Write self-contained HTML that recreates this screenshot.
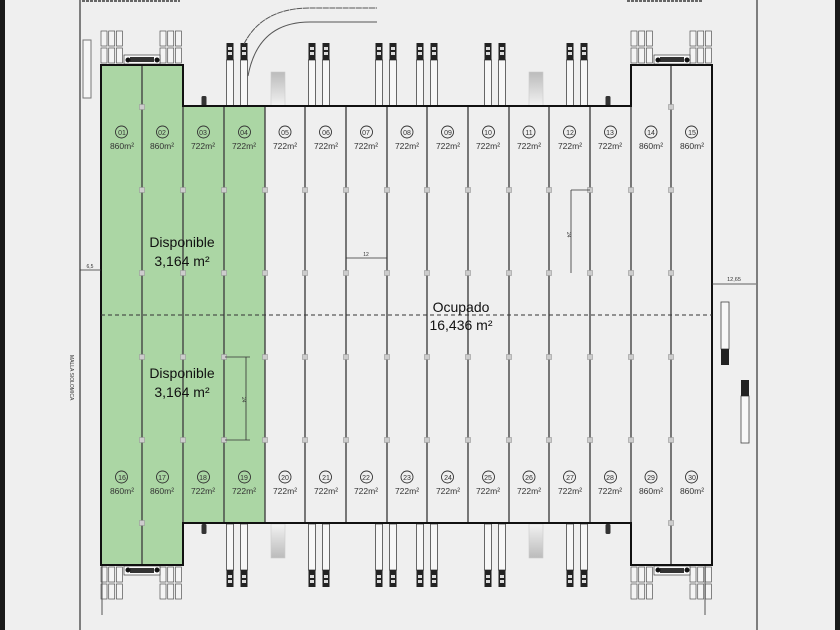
<!DOCTYPE html>
<html><head><meta charset="utf-8"><style>
html,body{margin:0;padding:0;background:#efefef;}
svg{display:block;}
text{font-family:"Liberation Sans",sans-serif;}
</style></head><body>
<svg id="s" width="840" height="630" viewBox="0 0 840 630" xmlns="http://www.w3.org/2000/svg">
<rect width="840" height="630" fill="#efefef"/>
<rect x="0" y="0" width="5" height="630" fill="#1a1a1a"/>
<rect x="835" y="0" width="5" height="630" fill="#1a1a1a"/>
<line x1="80" y1="0" x2="80" y2="630" stroke="#333" stroke-width="1.2"/>
<line x1="757" y1="0" x2="757" y2="630" stroke="#333" stroke-width="1.2"/>
<line x1="82" y1="1" x2="180" y2="1" stroke="#666" stroke-width="2" stroke-dasharray="3,1"/>
<line x1="627" y1="1" x2="703" y2="1" stroke="#666" stroke-width="2" stroke-dasharray="3,1"/>
<rect x="83" y="40" width="8" height="58" fill="#f6f6f6" stroke="#777" stroke-width="1"/>
<!-- green areas -->
<rect x="101" y="65" width="82" height="500" fill="#abd6a4"/>
<rect x="183" y="106" width="82" height="417" fill="#abd6a4"/>
<g id="g"></g>
<!-- building outline -->
<path d="M101 65 H183 V106 H631 V65 H712 V565 H631 V523 H183 V565 H101 Z" fill="none" stroke="#111" stroke-width="2"/>
<line x1="101" y1="315" x2="712" y2="315" stroke="#333" stroke-width="1" stroke-dasharray="4,3"/>
<!-- curves -->
<path d="M244 44 Q262 8 310 8 H377" fill="none" stroke="#555" stroke-width="1" stroke-dasharray="6,0.6"/>
<path d="M248 76 Q258 22 310 22 H377" fill="none" stroke="#555" stroke-width="1"/>
<!-- dims -->
<line x1="80" y1="270" x2="101" y2="270" stroke="#333" stroke-width="0.8"/>
<text x="90" y="268" font-size="5" text-anchor="middle" fill="#333">6,5</text>
<line x1="712" y1="284" x2="756" y2="284" stroke="#333" stroke-width="0.8"/>
<text x="734" y="281" font-size="5.5" text-anchor="middle" fill="#333">12,65</text>
<line x1="346" y1="258" x2="387" y2="258" stroke="#333" stroke-width="0.8"/>
<text x="366" y="256" font-size="5" text-anchor="middle" fill="#333">12</text>
<line x1="571" y1="190" x2="571" y2="273" stroke="#333" stroke-width="0.8"/>
<line x1="571" y1="190" x2="590" y2="190" stroke="#333" stroke-width="0.8"/>
<text x="567" y="232" font-size="5" fill="#333" transform="rotate(90 567 232)">24</text>
<line x1="246" y1="357" x2="246" y2="440" stroke="#333" stroke-width="0.8"/>
<line x1="225" y1="357" x2="250" y2="357" stroke="#333" stroke-width="0.8"/>
<line x1="225" y1="440" x2="250" y2="440" stroke="#333" stroke-width="0.8"/>
<text x="242" y="397" font-size="5" fill="#333" transform="rotate(90 242 397)">24</text>
<text x="70" y="355" font-size="5" fill="#333" transform="rotate(90 70 355)">MALLA SIOLOMICA</text>
<!-- big labels -->
<g font-size="14" fill="#111" text-anchor="middle">
<text x="182" y="247">Disponible</text><text x="182" y="266">3,164 m²</text>
<text x="182" y="378">Disponible</text><text x="182" y="397">3,164 m²</text>
<text x="461" y="312">Ocupado</text><text x="461" y="330">16,436 m²</text>
</g>
<g font-size="8.5" fill="#333" text-anchor="middle">
<text x="122" y="149">860m²</text><text x="162" y="149">860m²</text><text x="203" y="149">722m²</text><text x="244" y="149">722m²</text><text x="285" y="149">722m²</text><text x="326" y="149">722m²</text><text x="366" y="149">722m²</text><text x="407" y="149">722m²</text><text x="448" y="149">722m²</text><text x="488" y="149">722m²</text><text x="529" y="149">722m²</text><text x="570" y="149">722m²</text><text x="610" y="149">722m²</text><text x="651" y="149">860m²</text><text x="692" y="149">860m²</text>
<text x="122" y="494">860m²</text><text x="162" y="494">860m²</text><text x="203" y="494">722m²</text><text x="244" y="494">722m²</text><text x="285" y="494">722m²</text><text x="326" y="494">722m²</text><text x="366" y="494">722m²</text><text x="407" y="494">722m²</text><text x="448" y="494">722m²</text><text x="488" y="494">722m²</text><text x="529" y="494">722m²</text><text x="570" y="494">722m²</text><text x="610" y="494">722m²</text><text x="651" y="494">860m²</text><text x="692" y="494">860m²</text>
</g>
<g font-size="7" fill="#333" text-anchor="middle">
<text x="122" y="135">01</text><text x="162" y="135">02</text><text x="203" y="135">03</text><text x="244" y="135">04</text><text x="285" y="135">05</text><text x="326" y="135">06</text><text x="366" y="135">07</text><text x="407" y="135">08</text><text x="448" y="135">09</text><text x="488" y="135">10</text><text x="529" y="135">11</text><text x="570" y="135">12</text><text x="610" y="135">13</text><text x="651" y="135">14</text><text x="692" y="135">15</text>
<text x="122" y="480">16</text><text x="162" y="480">17</text><text x="203" y="480">18</text><text x="244" y="480">19</text><text x="285" y="480">20</text><text x="326" y="480">21</text><text x="366" y="480">22</text><text x="407" y="480">23</text><text x="448" y="480">24</text><text x="488" y="480">25</text><text x="529" y="480">26</text><text x="570" y="480">27</text><text x="610" y="480">28</text><text x="651" y="480">29</text><text x="692" y="480">30</text>
</g>
</svg>
<script>
var g=document.getElementById('g'),NS='http://www.w3.org/2000/svg';
function el(t,a){var e=document.createElementNS(NS,t);for(var k in a)e.setAttribute(k,a[k]);g.appendChild(e);return e;}
var xs=[101,142,183,224,265,305,346,387,427,468,509,549,590,631,671,712];
for(var i=1;i<15;i++){var x=xs[i];var y1=(i<=2||i>=13)?65:106,y2=(i<=2||i>=13)?565:523;
 if(i==2)y1=65,y2=565; if(i==13){y1=65;y2=565;}
 el('line',{x1:x,y1:(i==1||i==14)?65:106,x2:x,y2:(i==1||i==14)?565:523,stroke:'#444','stroke-width':1.4});
 [190,273,357,440].forEach(function(y){el('rect',{x:x-2.5,y:y-2.5,width:5,height:5,fill:'#ccc',stroke:'#999','stroke-width':0.6});});
}
[142,671].forEach(function(x){[107,523].forEach(function(y){el('rect',{x:x-2.5,y:y-2.5,width:5,height:5,fill:'#ccc',stroke:'#999','stroke-width':0.6});});});
// circles
for(var i=0;i<15;i++){var cx=(xs[i]+xs[i+1])/2;[132,477].forEach(function(cy){el('circle',{cx:cx,cy:cy,r:6,fill:'none',stroke:'#333','stroke-width':0.9});});}
// trucks
[230,244,312,326,379,393,420,434,488,502,570,584].forEach(function(x){
 el('rect',{x:x-3.5,y:60,width:7,height:46,fill:'#f7f7f7',stroke:'#444','stroke-width':0.8});
 el('rect',{x:x-3.5,y:43,width:7,height:17,fill:'#222'});
 el('rect',{x:x-2,y:47,width:4,height:3,fill:'#ddd'});el('rect',{x:x-2,y:52,width:4,height:3,fill:'#ddd'});
 el('rect',{x:x-3.5,y:524,width:7,height:46,fill:'#f7f7f7',stroke:'#444','stroke-width':0.8});
 el('rect',{x:x-3.5,y:570,width:7,height:17,fill:'#222'});
 el('rect',{x:x-2,y:575,width:4,height:3,fill:'#ddd'});el('rect',{x:x-2,y:580,width:4,height:3,fill:'#ddd'});
});
// ramps
var d=el('defs',{});d.innerHTML='<linearGradient id="rg" x1="0" y1="0" x2="0" y2="1"><stop offset="0" stop-color="#f2f2f2"/><stop offset="1" stop-color="#bbb"/></linearGradient><linearGradient id="rg2" x1="0" y1="1" x2="0" y2="0"><stop offset="0" stop-color="#f2f2f2"/><stop offset="1" stop-color="#bbb"/></linearGradient>';
[271,529].forEach(function(x){el('rect',{x:x,y:72,width:14,height:34,fill:'url(#rg2)',stroke:'#ccc','stroke-width':0.6});
 el('rect',{x:x,y:524,width:14,height:34,fill:'url(#rg)',stroke:'#ccc','stroke-width':0.6});});
// bollards
[204,608].forEach(function(x){el('rect',{x:x-2.5,y:96,width:5,height:10,fill:'#333',rx:1.5});el('rect',{x:x-2.5,y:524,width:5,height:10,fill:'#333',rx:1.5});});
// corner clusters
function cluster(x0,yTop){for(var c=0;c<3;c++)for(var r=0;r<2;r++){el('rect',{x:x0+c*7.7,y:yTop+r*17,width:6,height:15,fill:'#f4f4f4',stroke:'#555','stroke-width':0.7});}}
[[101,142],[631,671]].forEach(function(p){
 var a=p[0];
 cluster(a,31);cluster(a+59,31);cluster(a,567);cluster(a+59,567);
 el('rect',{x:a+23,y:55,width:36,height:9,fill:'#fafafa',stroke:'#444','stroke-width':0.7});
 el('rect',{x:a+29,y:57,width:24,height:5,fill:'#333'});
 el('circle',{cx:a+27,cy:60,r:2.5,fill:'#111'});el('circle',{cx:a+56,cy:60,r:2.5,fill:'#111'});
 el('rect',{x:a+23,y:566,width:36,height:9,fill:'#fafafa',stroke:'#444','stroke-width':0.7});
 el('rect',{x:a+29,y:568,width:24,height:5,fill:'#333'});
 el('circle',{cx:a+27,cy:570,r:2.5,fill:'#111'});el('circle',{cx:a+56,cy:570,r:2.5,fill:'#111'});
});
// right side vehicles
el('rect',{x:721,y:302,width:8,height:47,fill:'#f7f7f7',stroke:'#444','stroke-width':0.8});
el('rect',{x:721,y:349,width:8,height:16,fill:'#222'});
el('rect',{x:741,y:396,width:8,height:47,fill:'#f7f7f7',stroke:'#444','stroke-width':0.8});
el('rect',{x:741,y:380,width:8,height:16,fill:'#222'});
el('line',{x1:102,y1:565,x2:102,y2:615,stroke:'#555','stroke-width':1});
el('line',{x1:705,y1:565,x2:705,y2:615,stroke:'#555','stroke-width':1});
</script>
</body></html>
